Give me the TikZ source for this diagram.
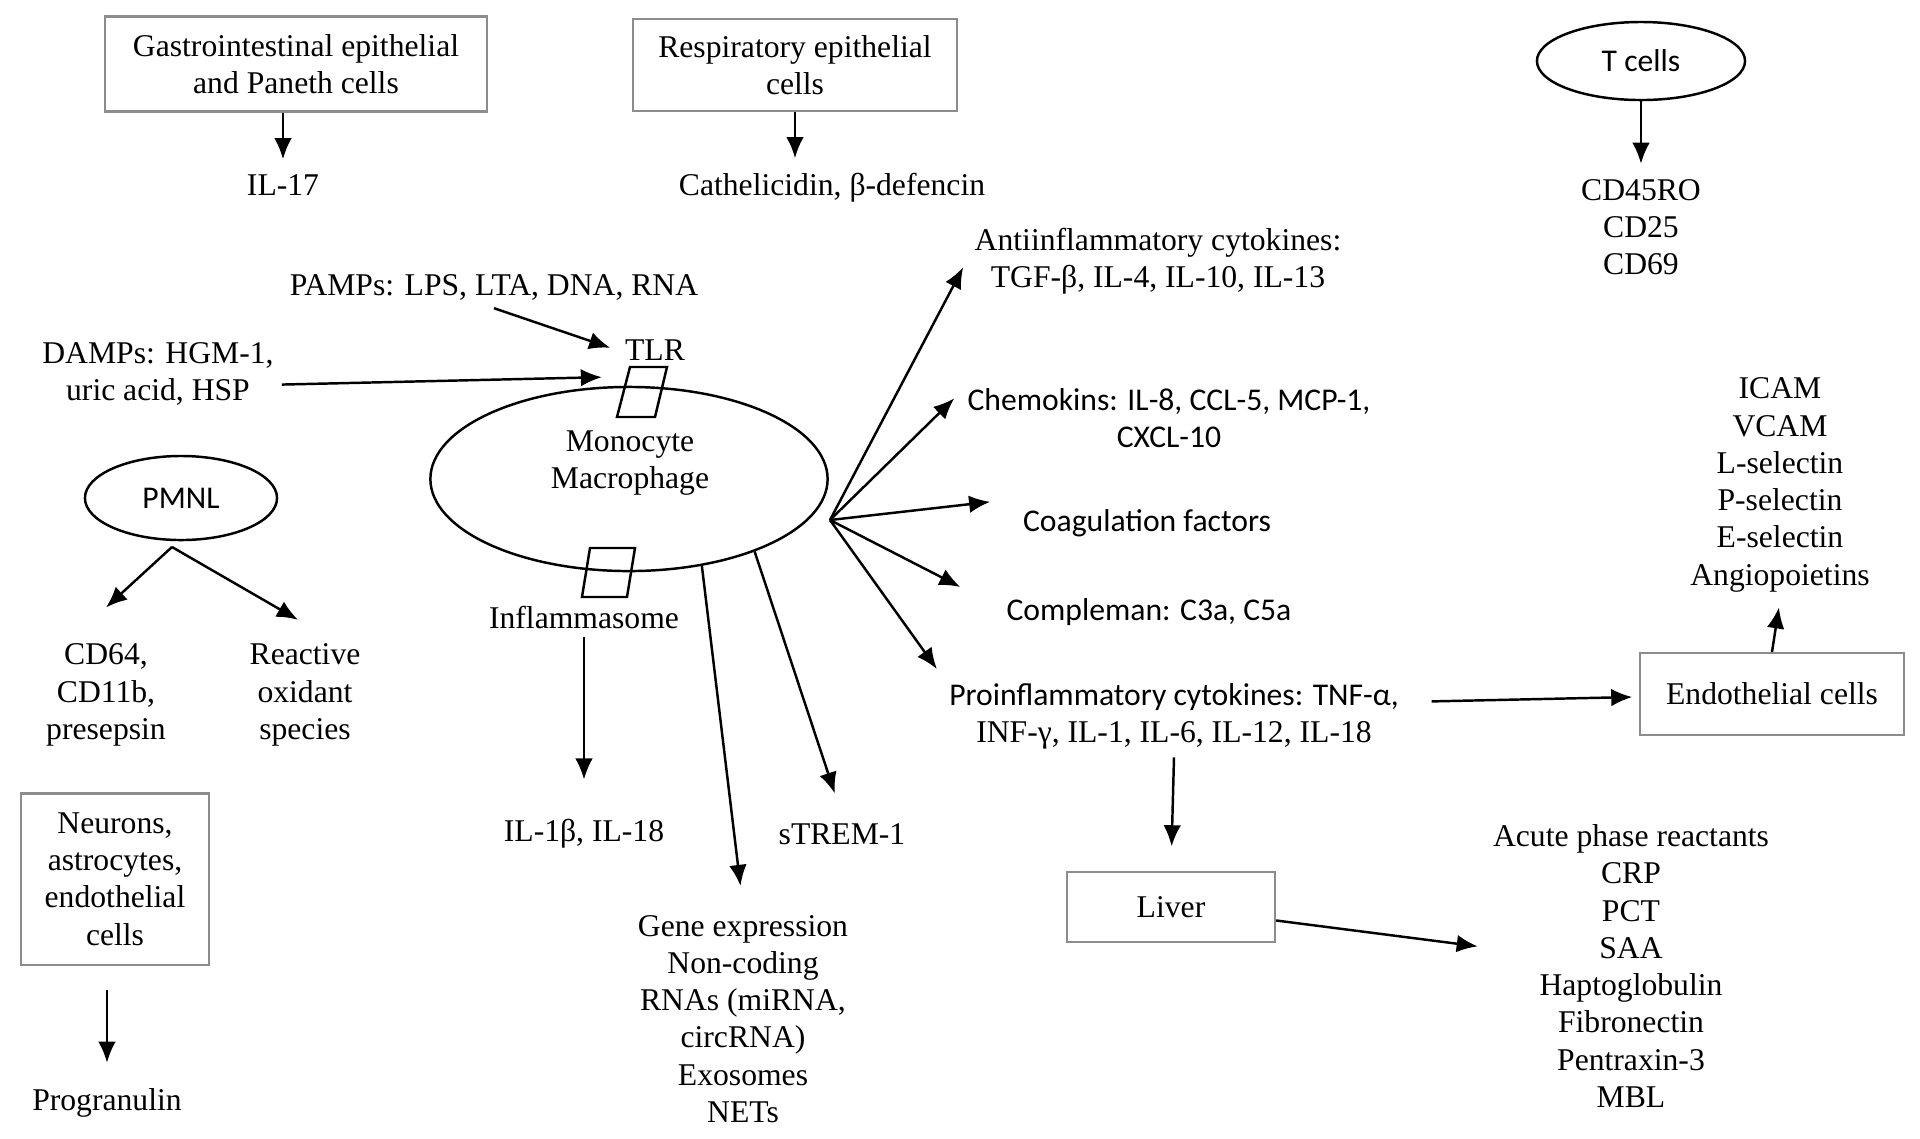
\documentclass[tikz,border=0pt]{standalone}
\usepackage{fontspec}
\setmainfont{Liberation Serif}
\newfontfamily\calibri{Carlito}
\usetikzlibrary{shapes.geometric,arrows.meta}

\begin{document}
\begin{tikzpicture}[->,>={Latex[length=6pt,width=5pt]},line width=0.7pt,shorten >=2pt,x=0.01cm,y=-0.01cm,font=\fontsize{9}{10.6}\selectfont]
      \tikzstyle{box}=[rectangle,draw=black!45,line width=0.6pt,align=center]
      \tikzstyle{cell}=[ellipse,draw,line width=0.7pt,inner sep=0pt]
      \tikzstyle{txt}=[align=center,inner sep=2pt]
      \tikzstyle{sans}=[font=\calibri\fontsize{9}{10.6}\selectfont]
      \tikzstyle{gate}=[-,shorten >=0pt,line width=0.7pt]
      \useasboundingbox (0,0) rectangle (1920,1138);
      \node[box,minimum width=3.81cm,minimum height=0.95cm] (gi) at (296,64) {Gastrointestinal epithelial\\and Paneth cells};
      \node[box,minimum width=3.24cm,minimum height=0.92cm] (resp) at (795,65) {Respiratory epithelial\\cells};
      \node[cell,sans,minimum width=2.08cm,minimum height=0.78cm] (tcell) at (1641,61) {T cells};
      \node[txt] (il17) at (283,185) {IL-17};
      \node[txt] (cath) at (832,188) {Cathelicidin, β-defencin};
      \node[txt] (cdlist) at (1641,227) {CD45RO\\CD25\\CD69};
      \node[txt] (anti) at (1158,261) {Antiinflammatory cytokines:\\TGF-β, IL-4, IL-10, IL-13};
      \node[txt] (pamps) at (494,287) {PAMPs: LPS, LTA, DNA, RNA};
      \node[txt] (tlr) at (655,350) {TLR};
      \node[txt] (damps) at (158,374) {DAMPs: HGM-1,\\uric acid, HSP};
      \node[cell,minimum width=3.97cm,minimum height=1.84cm] (mono) at (629,479) {};
      \node[txt] (monotext) at (630,463) {Monocyte\\Macrophage};
      \node[txt] (inflam) at (584,617) {Inflammasome};
      \node[cell,sans,minimum width=1.92cm,minimum height=0.84cm] (pmnl) at (181,498) {PMNL};
      \node[txt] (cd64) at (106,695) {CD64,\\CD11b,\\presepsin};
      \node[txt] (ros) at (305,695) {Reactive\\oxidant\\species};
      \node[box,minimum width=1.88cm,minimum height=1.71cm] (neurons) at (115,879) {Neurons,\\astrocytes,\\endothelial\\cells};
      \node[txt] (prog) at (107,1103) {Progranulin};
      \node[txt] (il1b) at (584,834) {IL-1β, IL-18};
      \node[txt] (strem) at (842,834) {sTREM-1};
      \node[txt] (gene) at (743,1019) {Gene expression\\Non-coding\\RNAs (miRNA,\\circRNA)\\Exosomes\\NETs};
      \node[txt,sans] (chemo) at (1169,418) {Chemokins: IL-8, CCL-5, MCP-1,\\CXCL-10};
      \node[txt,sans] (coag) at (1147,523) {Coagulation factors};
      \node[txt,sans] (compl) at (1149,612) {Compleman: C3a, C5a};
      \node[txt] (proinf) at (1174,716) {{\calibri Proinflammatory cytokines: TNF-α,}\\INF-γ, IL-1, IL-6, IL-12, IL-18};
      \node[box,minimum width=2.63cm,minimum height=0.82cm] (endo) at (1772,694) {Endothelial cells};
      \node[txt] (icam) at (1780,485) {ICAM\\VCAM\\L-selectin\\P-selectin\\E-selectin\\Angiopoietins};
      \node[box,minimum width=2.08cm,minimum height=0.70cm] (liver) at (1171,907) {Liver};
      \node[txt] (acute) at (1631,966) {Acute phase reactants\\CRP\\PCT\\SAA\\Haptoglobulin\\Fibronectin\\Pentraxin-3\\MBL};
      % receptors on the membrane
      \draw[gate] (630,367) -- (667,367) -- (655,417) -- (617,417) -- cycle;
      \draw[gate] (590,548) -- (635,548) -- (627,597) -- (582,597) -- cycle;
      \coordinate (tlrgate) at (609,377);
      \coordinate (hub) at (830,520);
      \coordinate (pmnlfoot) at (172,547);
      \draw (gi.south -| il17) -- (il17);
      \draw (resp.south) -- (resp.south |- cath.north);
      \draw (tcell) -- (cdlist);
      \draw (pamps.south) -- (tlr.west);
      \draw ([yshift=-3pt]damps.east) -- (tlrgate);
      \draw[shorten >=0pt] (pmnlfoot) -- ([yshift=8pt]cd64.north);
      \draw[shorten >=0pt] (pmnlfoot) -- ([xshift=-2pt,yshift=4.5pt]ros.north);
      \draw[shorten <=7pt,shorten >=5pt] (neurons.south -| prog) -- (prog);
      \draw[shorten >=9pt] (inflam) -- (il1b);
      \draw[shorten >=6pt] (mono.-50) -- (gene.north);
      \draw[shorten >=6.5pt] (mono.-30) -- (strem.north);
      \draw (hub) -- (anti.west);
      \draw (hub) -- ([yshift=7pt]chemo.west);
      \draw (hub) -- ([xshift=-5pt]coag.north west);
      \draw (hub) -- ([xshift=-9pt]compl.north west);
      \draw (hub) -- (proinf.north west);
      \draw[shorten <=7pt] ([yshift=4pt]proinf.east) -- (endo);
      \draw (endo.north) -- (icam.south);
      \draw[shorten >=7pt] (proinf.south) -- (liver.north);
      \draw (liver) -- (acute);
\end{tikzpicture}
\end{document}
